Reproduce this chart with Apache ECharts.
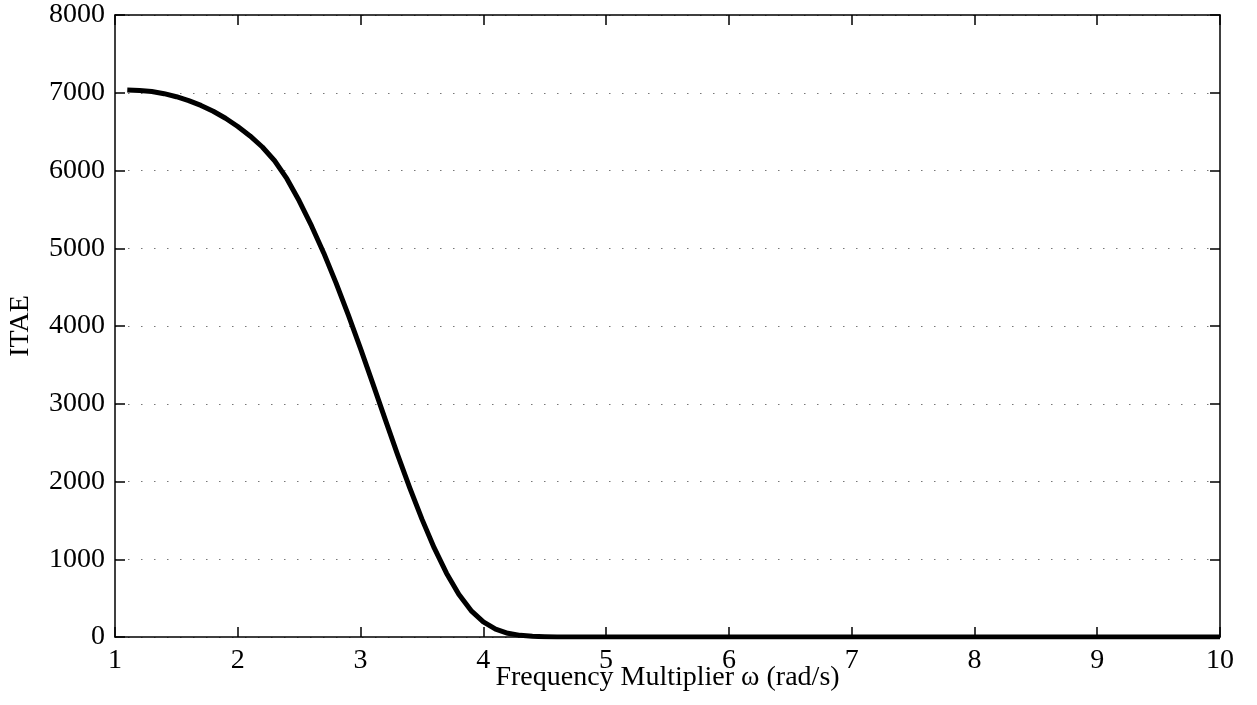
<!DOCTYPE html>
<html>
<head>
<meta charset="utf-8">
<script src="https://cdn.jsdelivr.net/npm/echarts@6/dist/echarts.min.js"></script>
<style>
html,body{margin:0;padding:0;background:#fff;}
#c{width:1257px;height:705px;}
</style>
</head>
<body>
<div id="c"></div>
<script>
const freq = [1.1,1.2,1.3,1.4,1.5,1.6,1.7,1.8,1.9,2.0,2.1,2.2,2.3,2.4,2.5,2.6,2.7,2.8,2.9,3.0,3.1,3.2,3.3,3.4,3.5,3.6,3.7,3.8,3.9,4.0,4.1,4.2,4.3,4.4,4.5,4.6,4.7,4.8,5.0,5.5,6.0,7.0,8.0,9.0,10.0];
const itae = [7035,7029,7015,6988,6949,6899,6837,6762,6672,6566,6445,6302,6125,5895,5610,5290,4940,4555,4143,3708,3258,2803,2353,1921,1516,1146,821,550,340,195,100,48,21,9,4,1.5,0.6,0.2,0,0,0,0,0,0,0];
const xTicks = [1,2,3,4,5,6,7,8,9,10];
const yTicks = [0,1000,2000,3000,4000,5000,6000,7000,8000];

const font = 'Liberation Serif';
const fs = 28;
const chart = echarts.init(document.getElementById('c'));
const axisLineStyle = {color:'#000', width:1.5};
const tick = {show:true, inside:true, length:10, lineStyle:{color:'#000', width:1.5}};
chart.setOption({
  animation:false,
  grid:{left:115, right:37, top:15, bottom:68, containLabel:false, outerBoundsMode:'none'},
  xAxis:[{
    type:'value', min:xTicks[0], max:xTicks[xTicks.length-1], interval:1,
    position:'bottom',
    name:'Frequency Multiplier ω (rad/s)', nameLocation:'middle', nameGap:27, nameMoveOverlap:false,
    nameTextStyle:{fontFamily:font, fontSize:fs, color:'#000'},
    axisLine:{show:true, onZero:false, lineStyle:axisLineStyle},
    axisTick:tick,
    axisLabel:{fontFamily:font, fontSize:fs, color:'#000', margin:10},
    splitLine:{show:false}
  },{
    type:'value', min:xTicks[0], max:xTicks[xTicks.length-1], interval:1,
    position:'top',
    axisLine:{show:true, onZero:false, lineStyle:axisLineStyle},
    axisTick:tick,
    axisLabel:{show:false}, splitLine:{show:false}
  }],
  yAxis:[{
    type:'value', min:yTicks[0], max:yTicks[yTicks.length-1], interval:1000,
    position:'left',
    name:'ITAE', nameLocation:'middle', nameGap:80, nameMoveOverlap:false,
    nameTextStyle:{fontFamily:font, fontSize:fs, color:'#000'},
    axisLine:{show:true, onZero:false, lineStyle:axisLineStyle},
    axisTick:tick,
    axisLabel:{fontFamily:font, fontSize:fs, color:'#000', margin:10, formatter:v=>String(v)},
    splitLine:{show:true, lineStyle:{color:'#777', width:1, type:[1.5,11.5]}}
  },{
    type:'value', min:yTicks[0], max:yTicks[yTicks.length-1], interval:1000,
    position:'right',
    axisLine:{show:true, onZero:false, lineStyle:axisLineStyle},
    axisTick:tick,
    axisLabel:{show:false}, splitLine:{show:false}
  }],
  series:[{
    type:'line', xAxisIndex:0, yAxisIndex:0,
    data: freq.map((f,i)=>[f, itae[i]]),
    showSymbol:false, smooth:false,
    lineStyle:{color:'#000', width:5, join:'round'},
    z:5
  }]
});
</script>
</body>
</html>
